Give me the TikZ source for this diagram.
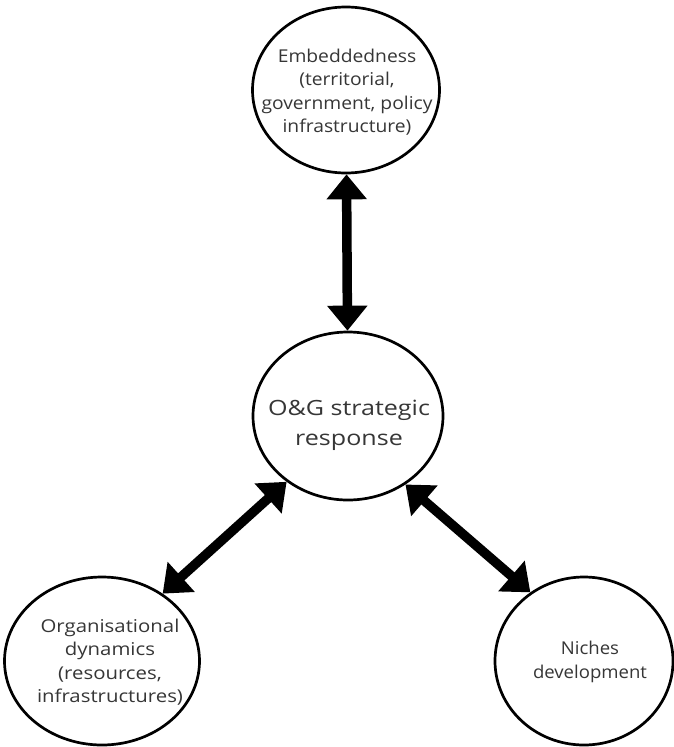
\documentclass[tikz,border=0pt]{standalone}
\usepackage{fontspec}
\setmainfont{Open Sans}
\usetikzlibrary{shapes.geometric,arrows.meta}
\definecolor{txt}{HTML}{363636}
% centred lines, stretched sideways so that the widest line is #1 pt wide
\newlength\fitw
\newcommand\fitlines[3]{%
  \settowidth\fitw{#2}%
  \pgfmathsetmacro\fitf{#1/\fitw}%
  \scalebox{\fitf}[1]{\begin{tabular}{@{}c@{}}#3\end{tabular}}}
\begin{document}
\begin{tikzpicture}[x=1pt,y=-1pt,
  bubble/.style={ellipse,draw=black,line width=2.7pt,fill=white,inner sep=0pt},
  label/.style={inner sep=0pt,text=txt,font=\fontsize{17.7}{23.5}\selectfont},
  link/.style={line width=9.5pt,{Triangle[width=39pt,length=25pt]}-{Triangle[width=39pt,length=25pt]}}]
\useasboundingbox (0,0) rectangle (674,747);
% the four bubbles
\node[bubble,minimum width=187pt,minimum height=166pt] (emb) at (346,90) {};
\node[bubble,minimum width=190pt,minimum height=168pt] (og) at (348,416) {};
\node[bubble,minimum width=195pt,minimum height=168pt] (org) at (102,661) {};
\node[bubble,minimum width=178pt,minimum height=168pt] (nich) at (584,661) {};
% their texts
\node[label] (embt) at (347,93)
  {\fitlines{171}{government, policy}{Embeddedness\\(territorial,\\government, policy\\infrastructure)}};
\node[label,font=\fontsize{21}{30}\selectfont] (ogt) at (349,424)
  {\fitlines{162}{O\&G strategic}{O\&G strategic\\response}};
\node[label] (orgt) at (110,663)
  {\fitlines{146}{infrastructures)}{Organisational\\dynamics\\(resources,\\infrastructures)}};
\node[label] (nicht) at (590,662)
  {\fitlines{114}{development}{Niches\\development}};
% two-headed links
\draw[link] (emb) -- (og);
\draw[link] (og.227.3) -- (org.48.4);
\draw[link] (og.310.5) -- (nich.128.5);
\end{tikzpicture}
\end{document}
